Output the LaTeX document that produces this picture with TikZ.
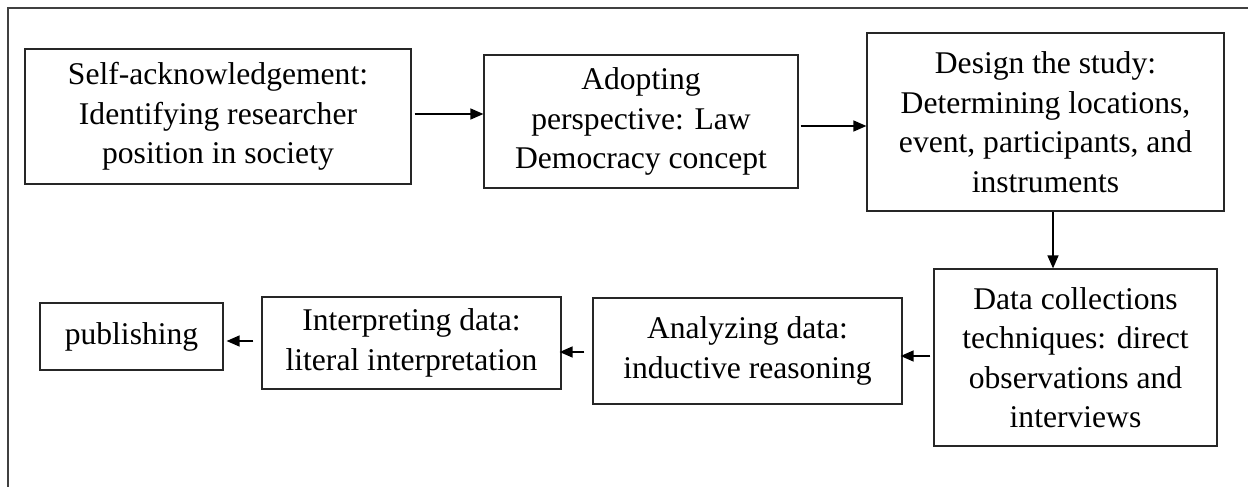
\documentclass[tikz,border=0pt]{standalone}
\usepackage{fontspec}
\setmainfont{Liberation Serif}
\usetikzlibrary{arrows.meta}
\tikzset{
  box/.style={draw=black!85, line width=1.2pt, align=center, inner sep=0pt,
    font=\fontsize{31.6}{39.5}\selectfont},
  arr/.style={line width=1.4pt, -{Triangle[length=13pt,width=11pt]}},
  frameline/.style={draw=black!75, line width=1.5pt}
}
\begin{document}
\begin{tikzpicture}[x=1pt,y=-1pt]
\useasboundingbox (0,0) rectangle (1248,487);
\coordinate (fa) at (1248,8);
\coordinate (fb) at (8,8);
\coordinate (fc) at (8,487);
\draw[frameline] (fa) -- (fb) -- (fc);

\node[box, minimum width=386pt, minimum height=135pt] (b1) at (218,116.5)
  {Self-acknowledgement:\\Identifying researcher\\position in society};
\node[box, minimum width=314pt, minimum height=133pt] (b2) at (641,121.5)
  {Adopting\\perspective: Law\\Democracy concept};
\node[box, minimum width=357pt, minimum height=178pt] (b3) at (1045.5,122)
  {Design the study:\\Determining locations,\\event, participants, and\\instruments};
\node[box, minimum width=283pt, minimum height=177pt] (b4) at (1075.5,357.5)
  {Data collections\\techniques: direct\\observations and\\interviews};
\node[box, minimum width=309pt, minimum height=106pt] (b5) at (747.5,351)
  {Analyzing data:\\inductive reasoning};
\node[box, minimum width=299pt, minimum height=92pt] (b6) at (411.5,343)
  {Interpreting data:\\literal interpretation};
\node[box, minimum width=183pt, minimum height=67pt] (b7) at (131.5,336.5)
  {publishing};

\draw[arr] ([xshift=3pt]b1.east |- 0,114) -- (b2.west |- 0,114);
\draw[arr] ([xshift=2pt]b2.east |- 0,126) -- (b3.west |- 0,126);
\draw[arr] (b3.south -| 1053,0) -- (b4.north -| 1053,0);
\draw[arr, shorten <=3pt, shorten >=-2pt] (b4.west |- 0,356) -- (b5.east |- 0,356);
\draw[arr, shorten <=8pt, shorten >=-2pt] (b5.west |- 0,352) -- (b6.east |- 0,352);
\draw[arr, shorten <=8pt, shorten >=3pt] (b6.west |- 0,341) -- (b7.east |- 0,341);
\end{tikzpicture}
\end{document}
